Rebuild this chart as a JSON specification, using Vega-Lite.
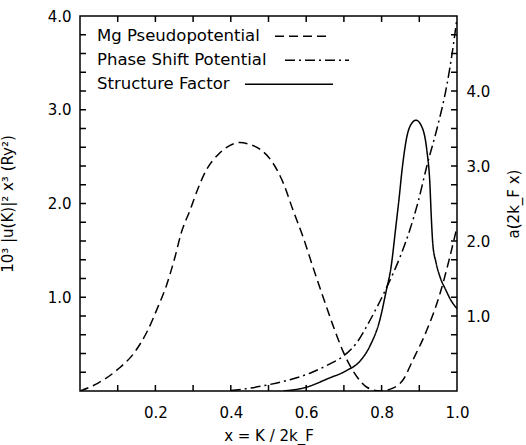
{
  "$schema": "https://vega.github.io/schema/vega-lite/v6.json",
  "width": 377,
  "height": 375,
  "autosize": {"type": "none"},
  "padding": {"left": 80, "top": 16, "right": 69, "bottom": 54},
  "background": "white",
  "config": {
    "view": {"stroke": "black", "strokeWidth": 1.5},
    "font": "DejaVu Sans",
    "axis": {
      "grid": false,
      "domain": false,
      "ticks": false,
      "labelColor": "black",
      "titleColor": "black",
      "labelFont": "DejaVu Sans",
      "titleFont": "DejaVu Sans",
      "labelFontSize": 15,
      "titleFontSize": 15,
      "titleFontWeight": "normal"
    }
  },
  "datasets": {
    "curves": [
      {"series": "Mg Pseudopotential", "x": 0.0, "v": 0.0},
      {"series": "Mg Pseudopotential", "x": 0.048, "v": 0.085},
      {"series": "Mg Pseudopotential", "x": 0.1, "v": 0.23},
      {"series": "Mg Pseudopotential", "x": 0.146, "v": 0.42},
      {"series": "Mg Pseudopotential", "x": 0.18, "v": 0.65},
      {"series": "Mg Pseudopotential", "x": 0.207, "v": 0.9},
      {"series": "Mg Pseudopotential", "x": 0.228, "v": 1.11},
      {"series": "Mg Pseudopotential", "x": 0.252, "v": 1.43},
      {"series": "Mg Pseudopotential", "x": 0.268, "v": 1.68},
      {"series": "Mg Pseudopotential", "x": 0.292, "v": 1.93},
      {"series": "Mg Pseudopotential", "x": 0.313, "v": 2.16},
      {"series": "Mg Pseudopotential", "x": 0.334, "v": 2.35},
      {"series": "Mg Pseudopotential", "x": 0.366, "v": 2.52},
      {"series": "Mg Pseudopotential", "x": 0.398, "v": 2.62},
      {"series": "Mg Pseudopotential", "x": 0.424, "v": 2.65},
      {"series": "Mg Pseudopotential", "x": 0.45, "v": 2.63},
      {"series": "Mg Pseudopotential", "x": 0.477, "v": 2.58},
      {"series": "Mg Pseudopotential", "x": 0.512, "v": 2.43},
      {"series": "Mg Pseudopotential", "x": 0.539, "v": 2.22},
      {"series": "Mg Pseudopotential", "x": 0.565, "v": 1.93},
      {"series": "Mg Pseudopotential", "x": 0.592, "v": 1.64},
      {"series": "Mg Pseudopotential", "x": 0.618, "v": 1.32},
      {"series": "Mg Pseudopotential", "x": 0.645, "v": 1.0},
      {"series": "Mg Pseudopotential", "x": 0.671, "v": 0.7},
      {"series": "Mg Pseudopotential", "x": 0.698, "v": 0.42},
      {"series": "Mg Pseudopotential", "x": 0.735, "v": 0.15},
      {"series": "Mg Pseudopotential", "x": 0.761, "v": 0.04},
      {"series": "Mg Pseudopotential", "x": 0.796, "v": 0.0},
      {"series": "Mg Pseudopotential", "x": 0.83, "v": 0.03},
      {"series": "Mg Pseudopotential", "x": 0.857, "v": 0.12},
      {"series": "Mg Pseudopotential", "x": 0.883, "v": 0.33},
      {"series": "Mg Pseudopotential", "x": 0.92, "v": 0.65},
      {"series": "Mg Pseudopotential", "x": 0.955, "v": 1.04},
      {"series": "Mg Pseudopotential", "x": 0.981, "v": 1.43},
      {"series": "Mg Pseudopotential", "x": 1.0, "v": 1.75},
      {"series": "Phase Shift Potential", "x": 0.4, "v": 0.005},
      {"series": "Phase Shift Potential", "x": 0.45, "v": 0.03},
      {"series": "Phase Shift Potential", "x": 0.504, "v": 0.07},
      {"series": "Phase Shift Potential", "x": 0.557, "v": 0.12},
      {"series": "Phase Shift Potential", "x": 0.61, "v": 0.19},
      {"series": "Phase Shift Potential", "x": 0.663, "v": 0.29},
      {"series": "Phase Shift Potential", "x": 0.698, "v": 0.37},
      {"series": "Phase Shift Potential", "x": 0.735, "v": 0.52},
      {"series": "Phase Shift Potential", "x": 0.77, "v": 0.76},
      {"series": "Phase Shift Potential", "x": 0.814, "v": 1.11},
      {"series": "Phase Shift Potential", "x": 0.849, "v": 1.43},
      {"series": "Phase Shift Potential", "x": 0.875, "v": 1.72},
      {"series": "Phase Shift Potential", "x": 0.897, "v": 2.02},
      {"series": "Phase Shift Potential", "x": 0.92, "v": 2.4},
      {"series": "Phase Shift Potential", "x": 0.947, "v": 2.8},
      {"series": "Phase Shift Potential", "x": 0.973, "v": 3.26},
      {"series": "Phase Shift Potential", "x": 0.99, "v": 3.68},
      {"series": "Phase Shift Potential", "x": 1.0, "v": 3.98},
      {"series": "Structure Factor", "x": 0.54, "v": 0.0},
      {"series": "Structure Factor", "x": 0.6, "v": 0.05},
      {"series": "Structure Factor", "x": 0.66, "v": 0.17},
      {"series": "Structure Factor", "x": 0.706, "v": 0.27},
      {"series": "Structure Factor", "x": 0.743, "v": 0.4},
      {"series": "Structure Factor", "x": 0.769, "v": 0.6},
      {"series": "Structure Factor", "x": 0.796, "v": 0.96},
      {"series": "Structure Factor", "x": 0.812, "v": 1.33},
      {"series": "Structure Factor", "x": 0.825, "v": 1.65},
      {"series": "Structure Factor", "x": 0.838, "v": 2.2},
      {"series": "Structure Factor", "x": 0.846, "v": 2.55},
      {"series": "Structure Factor", "x": 0.855, "v": 2.98},
      {"series": "Structure Factor", "x": 0.867, "v": 3.39},
      {"series": "Structure Factor", "x": 0.88, "v": 3.57},
      {"series": "Structure Factor", "x": 0.891, "v": 3.61},
      {"series": "Structure Factor", "x": 0.907, "v": 3.52},
      {"series": "Structure Factor", "x": 0.92, "v": 3.21},
      {"series": "Structure Factor", "x": 0.928, "v": 2.77},
      {"series": "Structure Factor", "x": 0.932, "v": 2.3},
      {"series": "Structure Factor", "x": 0.936, "v": 1.95},
      {"series": "Structure Factor", "x": 0.944, "v": 1.72},
      {"series": "Structure Factor", "x": 0.955, "v": 1.52},
      {"series": "Structure Factor", "x": 0.97, "v": 1.35},
      {"series": "Structure Factor", "x": 0.985, "v": 1.2},
      {"series": "Structure Factor", "x": 1.0, "v": 1.1}
    ],
    "xticks": [
      {"t": 0.1}, {"t": 0.2}, {"t": 0.3}, {"t": 0.4}, {"t": 0.5},
      {"t": 0.6}, {"t": 0.7}, {"t": 0.8}, {"t": 0.9}
    ],
    "leftticks": [
      {"t": 0.2}, {"t": 0.4}, {"t": 0.6}, {"t": 0.8}, {"t": 1.0},
      {"t": 1.2}, {"t": 1.4}, {"t": 1.6}, {"t": 1.8}, {"t": 2.0},
      {"t": 2.2}, {"t": 2.4}, {"t": 2.6}, {"t": 2.8}, {"t": 3.0},
      {"t": 3.2}, {"t": 3.4}, {"t": 3.6}, {"t": 3.8}
    ],
    "rightticks": [
      {"t": 0.25}, {"t": 0.5}, {"t": 0.75}, {"t": 1.0}, {"t": 1.25},
      {"t": 1.5}, {"t": 1.75}, {"t": 2.0}, {"t": 2.25}, {"t": 2.5},
      {"t": 2.75}, {"t": 3.0}, {"t": 3.25}, {"t": 3.5}, {"t": 3.75},
      {"t": 4.0}, {"t": 4.25}, {"t": 4.5}, {"t": 4.75}
    ]
  },
  "data": {"name": "curves"},
  "layer": [
    {
      "transform": [{"filter": "datum.series !== 'Structure Factor'"}],
      "mark": {"type": "line", "stroke": "black", "strokeWidth": 1.5, "interpolate": "monotone", "clip": true},
      "encoding": {
        "x": {
          "field": "x", "type": "quantitative",
          "scale": {"domain": [0, 1], "nice": false, "zero": false},
          "axis": {
            "orient": "bottom",
            "tickCount": 10,
            "labelExpr": "datum.value > 0.15 && abs(datum.value * 5 - round(datum.value * 5)) < 0.001 ? format(datum.value, '.1f') : ''",
            "labelPadding": 14,
            "labelFlush": false,
            "title": "x = K / 2k_F",
            "titlePadding": 8
          }
        },
        "y": {
          "field": "v", "type": "quantitative",
          "scale": {"domain": [0, 4], "nice": false},
          "axis": {
            "orient": "left",
            "tickCount": 20,
            "labelExpr": "datum.value > 0.5 && abs(datum.value - round(datum.value)) < 0.001 ? format(datum.value, '.1f') : ''",
            "labelPadding": 9,
            "labelFlush": false,
            "title": "10³ |u(K)|² x³ (Ry²)",
            "titlePadding": 32
          }
        },
        "strokeDash": {
          "field": "series", "type": "nominal",
          "scale": {"domain": ["Mg Pseudopotential", "Phase Shift Potential", "Structure Factor"], "range": [[9, 5], [10, 4, 2, 4], [1, 0]]},
          "legend": {
            "title": null,
            "orient": "none",
            "legendX": 17,
            "legendY": 12,
            "symbolSize": 100,
            "symbolStrokeColor": "black",
            "symbolStrokeWidth": 1.5,
            "labelFont": "DejaVu Sans",
            "labelFontSize": 16.5,
            "labelColor": "black",
            "labelLimit": 400,
            "rowPadding": 7,
            "padding": 0,
            "encode": {
              "symbols": {
                "update": {
                  "x": {"signal": "datum.value === 'Mg Pseudopotential' ? 204.5 : datum.value === 'Phase Shift Potential' ? 220 : 192"},
                  "shape": {"signal": "datum.value === 'Mg Pseudopotential' ? 'M-5.3,0H5.3' : datum.value === 'Phase Shift Potential' ? 'M-6.4,0H6.4' : 'M-8.8,0H8.8'"},
                  "fill": {"value": "transparent"}
                }
              },
              "labels": {"update": {"x": {"value": 0}}}
            }
          }
        }
      }
    },
    {
      "transform": [{"filter": "datum.series === 'Structure Factor'"}],
      "mark": {"type": "line", "stroke": "black", "strokeWidth": 1.5, "interpolate": "monotone", "clip": true},
      "encoding": {
        "x": {
          "field": "x", "type": "quantitative",
          "scale": {"domain": [0, 1], "nice": false, "zero": false},
          "axis": {
            "orient": "bottom",
            "tickCount": 10,
            "labelExpr": "datum.value > 0.15 && abs(datum.value * 5 - round(datum.value * 5)) < 0.001 ? format(datum.value, '.1f') : ''",
            "labelPadding": 14,
            "labelFlush": false,
            "title": "x = K / 2k_F",
            "titlePadding": 8
          }
        },
        "y": {
          "field": "v", "type": "quantitative",
          "scale": {"domain": [0, 5], "nice": false},
          "axis": {
            "orient": "right",
            "tickCount": 20,
            "labelExpr": "datum.value > 0.5 && datum.value < 4.9 && abs(datum.value - round(datum.value)) < 0.001 ? format(datum.value, '.1f') : ''",
            "labelPadding": 9,
            "labelFlush": false,
            "title": "a(2k_F x)",
            "titleAngle": 270,
            "titlePadding": 32
          }
        },
        "strokeDash": {
          "field": "series", "type": "nominal",
          "scale": {"domain": ["Mg Pseudopotential", "Phase Shift Potential", "Structure Factor"], "range": [[9, 5], [10, 4, 2, 4], [1, 0]]}
        }
      }
    },
    {
      "data": {"name": "xticks"},
      "mark": {"type": "tick", "orient": "vertical", "size": 12, "thickness": 1.5, "color": "black", "opacity": 1, "clip": true},
      "encoding": {
        "x": {
          "field": "t", "type": "quantitative",
          "scale": {"domain": [0, 1], "nice": false, "zero": false},
          "axis": {
            "orient": "bottom",
            "tickCount": 10,
            "labelExpr": "datum.value > 0.15 && abs(datum.value * 5 - round(datum.value * 5)) < 0.001 ? format(datum.value, '.1f') : ''",
            "labelPadding": 14,
            "labelFlush": false,
            "title": "x = K / 2k_F",
            "titlePadding": 8
          }
        },
        "y": {"datum": 0, "type": "quantitative", "scale": {"domain": [0, 1], "nice": false}, "axis": null}
      }
    },
    {
      "data": {"name": "xticks"},
      "mark": {"type": "tick", "orient": "vertical", "size": 12, "thickness": 1.5, "color": "black", "opacity": 1, "clip": true},
      "encoding": {
        "x": {
          "field": "t", "type": "quantitative",
          "scale": {"domain": [0, 1], "nice": false, "zero": false},
          "axis": {
            "orient": "bottom",
            "tickCount": 10,
            "labelExpr": "datum.value > 0.15 && abs(datum.value * 5 - round(datum.value * 5)) < 0.001 ? format(datum.value, '.1f') : ''",
            "labelPadding": 14,
            "labelFlush": false,
            "title": "x = K / 2k_F",
            "titlePadding": 8
          }
        },
        "y": {"datum": 1, "type": "quantitative", "scale": {"domain": [0, 1], "nice": false}, "axis": null}
      }
    },
    {
      "data": {"name": "leftticks"},
      "mark": {"type": "tick", "orient": "horizontal", "size": 12, "thickness": 1.5, "color": "black", "opacity": 1, "clip": true},
      "encoding": {
        "x": {
          "datum": 0, "type": "quantitative",
          "scale": {"domain": [0, 1], "nice": false, "zero": false},
          "axis": {
            "orient": "bottom",
            "tickCount": 10,
            "labelExpr": "datum.value > 0.15 && abs(datum.value * 5 - round(datum.value * 5)) < 0.001 ? format(datum.value, '.1f') : ''",
            "labelPadding": 14,
            "labelFlush": false,
            "title": "x = K / 2k_F",
            "titlePadding": 8
          }
        },
        "y": {"field": "t", "type": "quantitative", "scale": {"domain": [0, 4], "nice": false}, "axis": null}
      }
    },
    {
      "data": {"name": "rightticks"},
      "mark": {"type": "tick", "orient": "horizontal", "size": 12, "thickness": 1.5, "color": "black", "opacity": 1, "clip": true},
      "encoding": {
        "x": {
          "datum": 1, "type": "quantitative",
          "scale": {"domain": [0, 1], "nice": false, "zero": false},
          "axis": {
            "orient": "bottom",
            "tickCount": 10,
            "labelExpr": "datum.value > 0.15 && abs(datum.value * 5 - round(datum.value * 5)) < 0.001 ? format(datum.value, '.1f') : ''",
            "labelPadding": 14,
            "labelFlush": false,
            "title": "x = K / 2k_F",
            "titlePadding": 8
          }
        },
        "y": {"field": "t", "type": "quantitative", "scale": {"domain": [0, 5], "nice": false}, "axis": null}
      }
    }
  ],
  "resolve": {"scale": {"y": "independent"}}
}
